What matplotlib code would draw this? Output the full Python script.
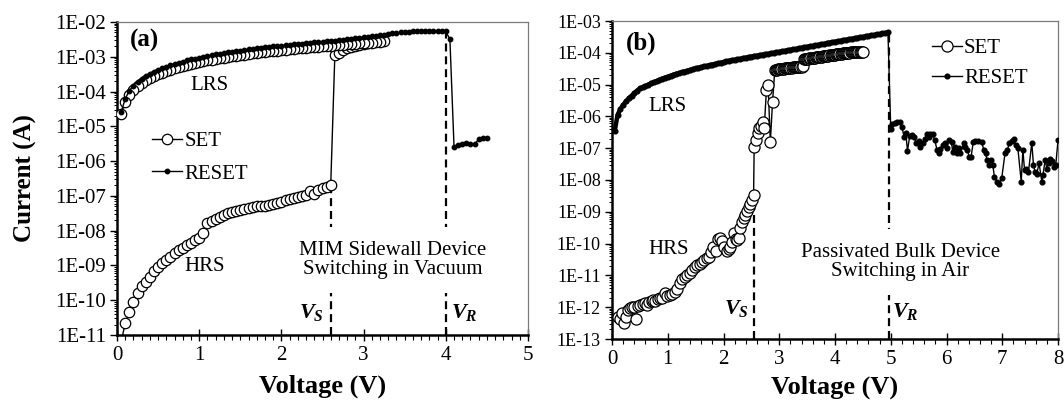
import numpy as np
import matplotlib
matplotlib.use("Agg")
import matplotlib.pyplot as plt
from matplotlib.ticker import LogLocator, FuncFormatter, NullFormatter, MultipleLocator

plt.rcParams['font.family'] = ['Liberation Serif', 'DejaVu Serif']
plt.rcParams['mathtext.fontset'] = 'custom'
plt.rcParams['mathtext.it'] = 'Liberation Serif:italic:bold'
plt.rcParams['mathtext.rm'] = 'Liberation Serif:bold'
plt.rcParams['mathtext.bf'] = 'Liberation Serif:bold'

# ---------------- (a) MIM sidewall device, vacuum ----------------
# voltage sweep step used by the instrument
A_STEP = 0.05

# SET sweep: HRS branch from 0.05 V to 2.60 V, log10(I / A)
a_set_hrs_log = [
    -11.20, -10.66, -10.35, -10.04, -9.78, -9.59, -9.47, -9.32, -9.15, -9.04,
    -8.94, -8.84, -8.75, -8.65, -8.56, -8.49, -8.41, -8.35, -8.27, -8.22,
    -8.06, -7.79, -7.71, -7.67, -7.62, -7.55, -7.50, -7.46, -7.43, -7.41,
    -7.39, -7.36, -7.31, -7.29, -7.28, -7.30, -7.27, -7.22, -7.20, -7.18,
    -7.12, -7.10, -7.06, -7.04, -6.99, -6.97, -6.86, -6.96, -6.84, -6.77,
    -6.74, -6.69,
]
# SET sweep after switching: 2.65 V to 3.25 V
a_set_lrs_up_log = [
    -2.96, -2.88, -2.80, -2.76, -2.72, -2.68, -2.65, -2.62, -2.60, -2.58,
    -2.56, -2.55, -2.54,
]
# SET return sweep along LRS, listed from 0.05 V to 3.20 V
a_set_return_log = [
    -4.651, -4.305, -4.103, -3.959, -3.847, -3.756, -3.679, -3.613, -3.554, -3.501,
    -3.454, -3.410, -3.370, -3.333, -3.299, -3.267, -3.236, -3.208, -3.181, -3.155,
    -3.131, -3.107, -3.085, -3.064, -3.044, -3.024, -3.005, -2.987, -2.969, -2.953,
    -2.936, -2.920, -2.905, -2.890, -2.876, -2.861, -2.848, -2.834, -2.822, -2.809,
    -2.796, -2.784, -2.773, -2.761, -2.750, -2.739, -2.728, -2.718, -2.707, -2.697,
    -2.688, -2.678, -2.668, -2.659, -2.650, -2.641, -2.632, -2.623, -2.615, -2.606,
    -2.598, -2.590, -2.582, -2.574,
]
# RESET sweep from 0.05 V to 4.50 V
a_reset_log = [
    -4.590, -4.210, -3.973, -3.829, -3.717, -3.626, -3.549, -3.483, -3.424, -3.371,
    -3.324, -3.280, -3.240, -3.203, -3.169, -3.137, -3.106, -3.078, -3.051, -3.025,
    -3.001, -2.977, -2.955, -2.934, -2.914, -2.894, -2.875, -2.857, -2.839, -2.823,
    -2.806, -2.790, -2.775, -2.760, -2.746, -2.731, -2.718, -2.704, -2.692, -2.679,
    -2.666, -2.654, -2.643, -2.631, -2.620, -2.609, -2.598, -2.588, -2.577, -2.567,
    -2.558, -2.548, -2.535, -2.522, -2.508, -2.494, -2.480, -2.465, -2.450, -2.435,
    -2.420, -2.405, -2.390, -2.375, -2.360, -2.345, -2.330, -2.315, -2.300, -2.290,
    -2.280, -2.272, -2.265, -2.260, -2.258, -2.262, -2.265, -2.265, -2.262, -2.268,
    -2.500, -5.580, -5.540, -5.510, -5.490, -5.500, -5.520, -5.370, -5.330, -5.330,
]
a_vs = 2.6
a_vr = 4.0

# ---------------- (b) passivated bulk device, air ----------------
B_STEP = 0.05
B_BAND_STEP = 0.02

# SET sweep, HRS branch and switching region (V, log10 I)
b_set_hrs_v = [
    0.10, 0.14, 0.18, 0.21, 0.25, 0.28, 0.32, 0.36, 0.40, 0.43,
    0.47, 0.51, 0.55, 0.59, 0.63, 0.67, 0.71, 0.74, 0.78, 0.82,
    0.86, 0.90, 0.95, 0.99, 1.04, 1.08, 1.13, 1.17, 1.22, 1.26,
    1.31, 1.35, 1.40, 1.44, 1.49, 1.53, 1.57, 1.61, 1.65, 1.70,
    1.74, 1.78, 1.82, 1.87, 1.91, 1.94, 1.97, 2.01, 2.06, 2.09,
    2.12, 2.15, 2.18, 2.22, 2.25, 2.28, 2.30, 2.33, 2.36, 2.39,
    2.42, 2.45, 2.48, 2.51, 2.54,
    2.55, 2.58, 2.61, 2.64, 2.67, 2.70, 2.73, 2.77, 2.80, 2.84,
    2.88, 2.92,
]
b_set_hrs_log = [
    -12.30, -12.38, -12.19, -12.49, -12.30, -12.10, -12.03, -11.98, -12.00, -12.38,
    -11.96, -11.93, -11.90, -11.88, -11.92, -11.85, -11.80, -11.77, -11.82, -11.75,
    -11.72, -11.70, -11.54, -11.65, -11.62, -11.58, -11.51, -11.42, -11.25, -11.12,
    -11.04, -10.98, -10.93, -10.82, -10.73, -10.68, -10.63, -10.57, -10.52, -10.46,
    -10.41, -10.25, -10.10, -10.22, -9.85, -9.83, -9.91, -10.10, -10.22, -10.18,
    -10.10, -9.95, -9.68, -9.85, -9.90, -9.83, -9.52, -9.31, -9.21, -9.10,
    -8.97, -8.85, -8.76, -8.62, -8.47,
    -6.95, -6.74, -6.53, -6.37, -6.30, -6.17, -6.37, -5.17, -5.01, -6.80,
    -5.54, -4.54,
]
# SET sweep, first LRS band from 2.94 V to 3.42 V
b_set_band1_log = [
    -4.53, -4.53, -4.52, -4.52, -4.51, -4.51, -4.50, -4.50, -4.49, -4.49,
    -4.48, -4.48, -4.48, -4.47, -4.47, -4.46, -4.46, -4.46, -4.45, -4.45,
    -4.45, -4.44, -4.44, -4.44, -4.43,
]
# SET sweep, second LRS band from 3.44 V to 4.50 V
b_set_band2_log = [
    -4.20, -4.19, -4.19, -4.18, -4.18, -4.17, -4.17, -4.16, -4.16, -4.15,
    -4.15, -4.14, -4.14, -4.13, -4.13, -4.12, -4.12, -4.11, -4.11, -4.10,
    -4.10, -4.09, -4.09, -4.08, -4.08, -4.07, -4.07, -4.06, -4.06, -4.05,
    -4.05, -4.04, -4.04, -4.03, -4.03, -4.02, -4.02, -4.01, -4.01, -4.00,
    -4.00, -4.00, -3.99, -3.99, -3.99, -3.98, -3.98, -3.98, -3.97, -3.97,
    -3.97, -3.96, -3.96, -3.96,
]
# RESET sweep along LRS from 0.05 V to 4.95 V
b_reset_lrs_log = [
    -6.45, -5.95, -5.77, -5.64, -5.53, -5.43, -5.35, -5.27, -5.19, -5.12,
    -5.08, -5.04, -5.00, -4.96, -4.92, -4.89, -4.85, -4.81, -4.78, -4.75,
    -4.72, -4.69, -4.66, -4.64, -4.61, -4.59, -4.56, -4.54, -4.51, -4.49,
    -4.47, -4.45, -4.43, -4.41, -4.39, -4.37, -4.35, -4.33, -4.31, -4.29,
    -4.27, -4.25, -4.23, -4.22, -4.20, -4.19, -4.17, -4.15, -4.13, -4.12,
    -4.10, -4.09, -4.07, -4.06, -4.04, -4.03, -4.01, -4.00, -3.98, -3.97,
    -3.95, -3.94, -3.92, -3.91, -3.89, -3.88, -3.86, -3.84, -3.83, -3.81,
    -3.80, -3.78, -3.77, -3.75, -3.73, -3.72, -3.70, -3.68, -3.67, -3.65,
    -3.64, -3.62, -3.60, -3.59, -3.57, -3.56, -3.54, -3.53, -3.51, -3.50,
    -3.48, -3.47, -3.45, -3.44, -3.42, -3.41, -3.39, -3.38, -3.36,
]
# RESET sweep after the reset, noisy HRS tail (V, log10 I)
b_reset_tail_v = [
    5.00, 5.03, 5.07, 5.12, 5.16, 5.20, 5.24, 5.27, 5.30, 5.34,
    5.38, 5.42, 5.46, 5.50, 5.53, 5.57, 5.61, 5.65, 5.68, 5.71,
    5.75, 5.79, 5.83, 5.86, 5.89, 5.93, 5.98, 6.01, 6.04, 6.09,
    6.11, 6.15, 6.19, 6.22, 6.25, 6.31, 6.34, 6.37, 6.41, 6.44,
    6.48, 6.52, 6.57, 6.63, 6.67, 6.70, 6.73, 6.76, 6.80, 6.83,
    6.86, 6.91, 6.95, 6.99, 7.05, 7.09, 7.13, 7.17, 7.21, 7.24,
    7.28, 7.34, 7.37, 7.40, 7.43, 7.47, 7.53, 7.56, 7.59, 7.62,
    7.66, 7.71, 7.73, 7.77, 7.80, 7.83, 7.86, 7.89, 7.93, 7.96,
    8.00,
]
b_reset_tail_log = [
    -6.40, -6.24, -6.20, -6.17, -6.18, -6.32, -6.65, -6.53, -7.08, -6.62,
    -6.58, -6.66, -6.85, -6.76, -6.95, -6.83, -6.72, -6.55, -6.64, -6.55,
    -6.56, -6.74, -7.06, -7.16, -7.04, -6.90, -6.85, -7.00, -6.74, -6.80,
    -7.11, -6.95, -7.14, -7.00, -7.16, -6.85, -6.95, -7.06, -7.27, -7.29,
    -6.80, -6.76, -6.76, -6.80, -7.06, -7.16, -7.37, -7.53, -7.37, -7.53,
    -7.90, -8.05, -8.13, -7.95, -7.16, -7.06, -6.83, -6.76, -6.72, -6.90,
    -7.00, -8.05, -7.06, -7.69, -7.64, -7.75, -6.83, -7.53, -7.75, -7.80,
    -7.47, -8.05, -7.85, -7.37, -7.64, -7.47, -7.35, -7.39, -7.58, -7.53,
    -6.75,
]
b_vs = 2.54
b_vr = 4.96


def sweep(start, step, n):
    """Voltages of a uniform sweep with n points."""
    return np.round(start + step * np.arange(n), 3)


def current(log_values):
    return 10.0 ** np.asarray(log_values, dtype=float)


# assemble the (a) sweeps
a_hrs_v = sweep(A_STEP, A_STEP, len(a_set_hrs_log))
a_up_v = sweep(a_hrs_v[-1] + A_STEP, A_STEP, len(a_set_lrs_up_log))
a_ret_v = sweep(A_STEP, A_STEP, len(a_set_return_log))[::-1]
a_set_v = np.concatenate([a_hrs_v, a_up_v, a_ret_v])
a_set_i = current(a_set_hrs_log + a_set_lrs_up_log + a_set_return_log[::-1])
a_reset_v = sweep(A_STEP, A_STEP, len(a_reset_log))
a_reset_i = current(a_reset_log)

# assemble the (b) sweeps
b_band1_v = sweep(2.94, B_BAND_STEP, len(b_set_band1_log))
b_band2_v = sweep(3.44, B_BAND_STEP, len(b_set_band2_log))
b_set_v = np.concatenate([b_set_hrs_v, b_band1_v, b_band2_v])
b_set_i = current(b_set_hrs_log + b_set_band1_log + b_set_band2_log)
b_lrs_v = sweep(B_STEP, B_STEP, len(b_reset_lrs_log))
b_reset_v = np.concatenate([b_lrs_v, b_reset_tail_v])
b_reset_i = current(b_reset_lrs_log + b_reset_tail_log)


# ---------------- figure ----------------
fig = plt.figure(figsize=(10.64, 4.0), dpi=100)
ax_a = fig.add_axes([117 / 1064, 65 / 400, 411 / 1064, 313 / 400])
ax_b = fig.add_axes([612 / 1064, 61 / 400, 446 / 1064, 318 / 400])


def exp_label(y, pos):
    e = int(round(np.log10(y)))
    return f"1E{e:+03d}"


def style_axes(ax, xmax, xminor, ylo, yhi, ytick_size, xtick_size):
    ax.set_yscale('log')
    ax.set_xlim(0, xmax)
    ax.set_ylim(ylo, yhi)
    ax.xaxis.set_major_locator(MultipleLocator(1))
    ax.xaxis.set_minor_locator(MultipleLocator(xminor))
    ax.yaxis.set_major_locator(LogLocator(base=10, numticks=30))
    ax.yaxis.set_minor_locator(LogLocator(base=10, subs=np.arange(2, 10), numticks=30))
    ax.yaxis.set_major_formatter(FuncFormatter(exp_label))
    ax.yaxis.set_minor_formatter(NullFormatter())
    ax.tick_params(axis='y', which='major', direction='out', length=5, width=1.0,
                   labelsize=ytick_size, pad=3)
    ax.tick_params(axis='y', which='minor', direction='out', length=2.5, width=0.7)
    ax.tick_params(axis='x', which='major', direction='inout', length=8, width=1.0,
                   labelsize=xtick_size, pad=4)
    ax.tick_params(axis='x', which='minor', direction='out', length=3.5, width=0.8)
    for side in ('left', 'bottom'):
        ax.spines[side].set_linewidth(1.8)
        ax.spines[side].set_color('black')
    for side in ('top', 'right'):
        ax.spines[side].set_linewidth(0.9)
        ax.spines[side].set_color('#7a7a7a')
    ax.set_xlabel('Voltage (V)', fontsize=19, fontweight='bold')


dash = dict(color='black', lw=1.6, dashes=(3.6, 2.2), zorder=1)
note_box = dict(facecolor='white', edgecolor='none', pad=10)

# ----- panel (a)
style_axes(ax_a, 5, 0.1, 1e-11, 1e-2, 15, 15)
ax_a.set_ylabel('Current (A)', fontsize=18, fontweight='bold')
ax_a.yaxis.set_label_coords(-0.195, 0.5)
ax_a.xaxis.set_label_coords(0.5, -0.128)

ax_a.plot([a_vs, a_vs], [1e-11, a_set_i[len(a_set_hrs_log) - 1]], **dash)
ax_a.plot([a_vr, a_vr], [1e-11, a_reset_i[int(round(a_vr / A_STEP)) - 1]], **dash)

set_a, = ax_a.plot(a_set_v, a_set_i, color='black', lw=1.0, marker='o', ms=7.5,
                   mfc='white', mec='black', mew=0.9, label='SET', zorder=3)
reset_a, = ax_a.plot(a_reset_v, a_reset_i, color='black', lw=1.0, marker='o', ms=3.2,
                     mfc='black', mec='black', label='RESET', zorder=4)

ax_a.text(0.34, 10 ** -2.52, '(a)', fontsize=18, fontweight='bold', ha='center', va='center')
ax_a.text(1.12, 10 ** -3.84, 'LRS', fontsize=15, ha='center', va='center')
ax_a.text(1.06, 10 ** -9.04, 'HRS', fontsize=15, ha='center', va='center')
ax_a.text(3.35, 10 ** -8.84, 'MIM Sidewall Device\nSwitching in Vacuum', fontsize=15,
          ha='center', va='center', linespacing=1.05, bbox=note_box, zorder=5)
ax_a.text(a_vs - 0.08, 10 ** -10.34, r'$V_S$', fontsize=16, ha='right', va='center')
ax_a.text(a_vr + 0.06, 10 ** -10.34, r'$V_R$', fontsize=16, ha='left', va='center')
ax_a.legend(handles=[set_a, reset_a], loc='upper left', bbox_to_anchor=(0.085, 0.65),
            frameon=False, fontsize=15, handlelength=1.45, handletextpad=0.1,
            labelspacing=0.62, borderpad=0, borderaxespad=0, numpoints=1)

# ----- panel (b)
style_axes(ax_b, 8, 0.2, 1e-13, 1e-3, 13, 15)
ax_b.xaxis.set_label_coords(0.5, -0.115)

ax_b.plot([b_vs, b_vs], [1e-13, 10 ** b_set_hrs_log[64]], **dash)
ax_b.plot([b_vr, b_vr], [1e-13, 10 ** b_reset_lrs_log[-1]], **dash)

set_b, = ax_b.plot(b_set_v, b_set_i, color='black', lw=1.0, marker='o', ms=8,
                   mfc='white', mec='black', mew=0.9, label='SET', zorder=3)
reset_b, = ax_b.plot(b_reset_v, b_reset_i, color='black', lw=1.0, marker='o', ms=3.4,
                     mfc='black', mec='black', label='RESET', zorder=4)
# the dense LRS part of the RESET sweep reads as one heavy trace
ax_b.plot(b_lrs_v, current(b_reset_lrs_log), color='black', lw=3.2,
          solid_capstyle='round', zorder=4)

ax_b.text(0.52, 10 ** -3.69, '(b)', fontsize=18, fontweight='bold', ha='center', va='center')
ax_b.text(0.99, 10 ** -5.70, 'LRS', fontsize=15, ha='center', va='center')
ax_b.text(1.02, 10 ** -10.2, 'HRS', fontsize=15, ha='center', va='center')
ax_b.text(5.17, 10 ** -10.58, 'Passivated Bulk Device\nSwitching in Air', fontsize=15,
          ha='center', va='center', linespacing=1.05, bbox=note_box, zorder=5)
ax_b.text(b_vs - 0.08, 10 ** -12.03, r'$V_S$', fontsize=16, ha='right', va='center')
ax_b.text(b_vr + 0.06, 10 ** -12.15, r'$V_R$', fontsize=16, ha='left', va='center')
ax_b.legend(handles=[set_b, reset_b], loc='upper left', bbox_to_anchor=(0.717, 0.945),
            frameon=False, fontsize=15, handlelength=1.45, handletextpad=0.1,
            labelspacing=0.5, borderpad=0, borderaxespad=0, numpoints=1)

fig.savefig('out.png', dpi=100)
